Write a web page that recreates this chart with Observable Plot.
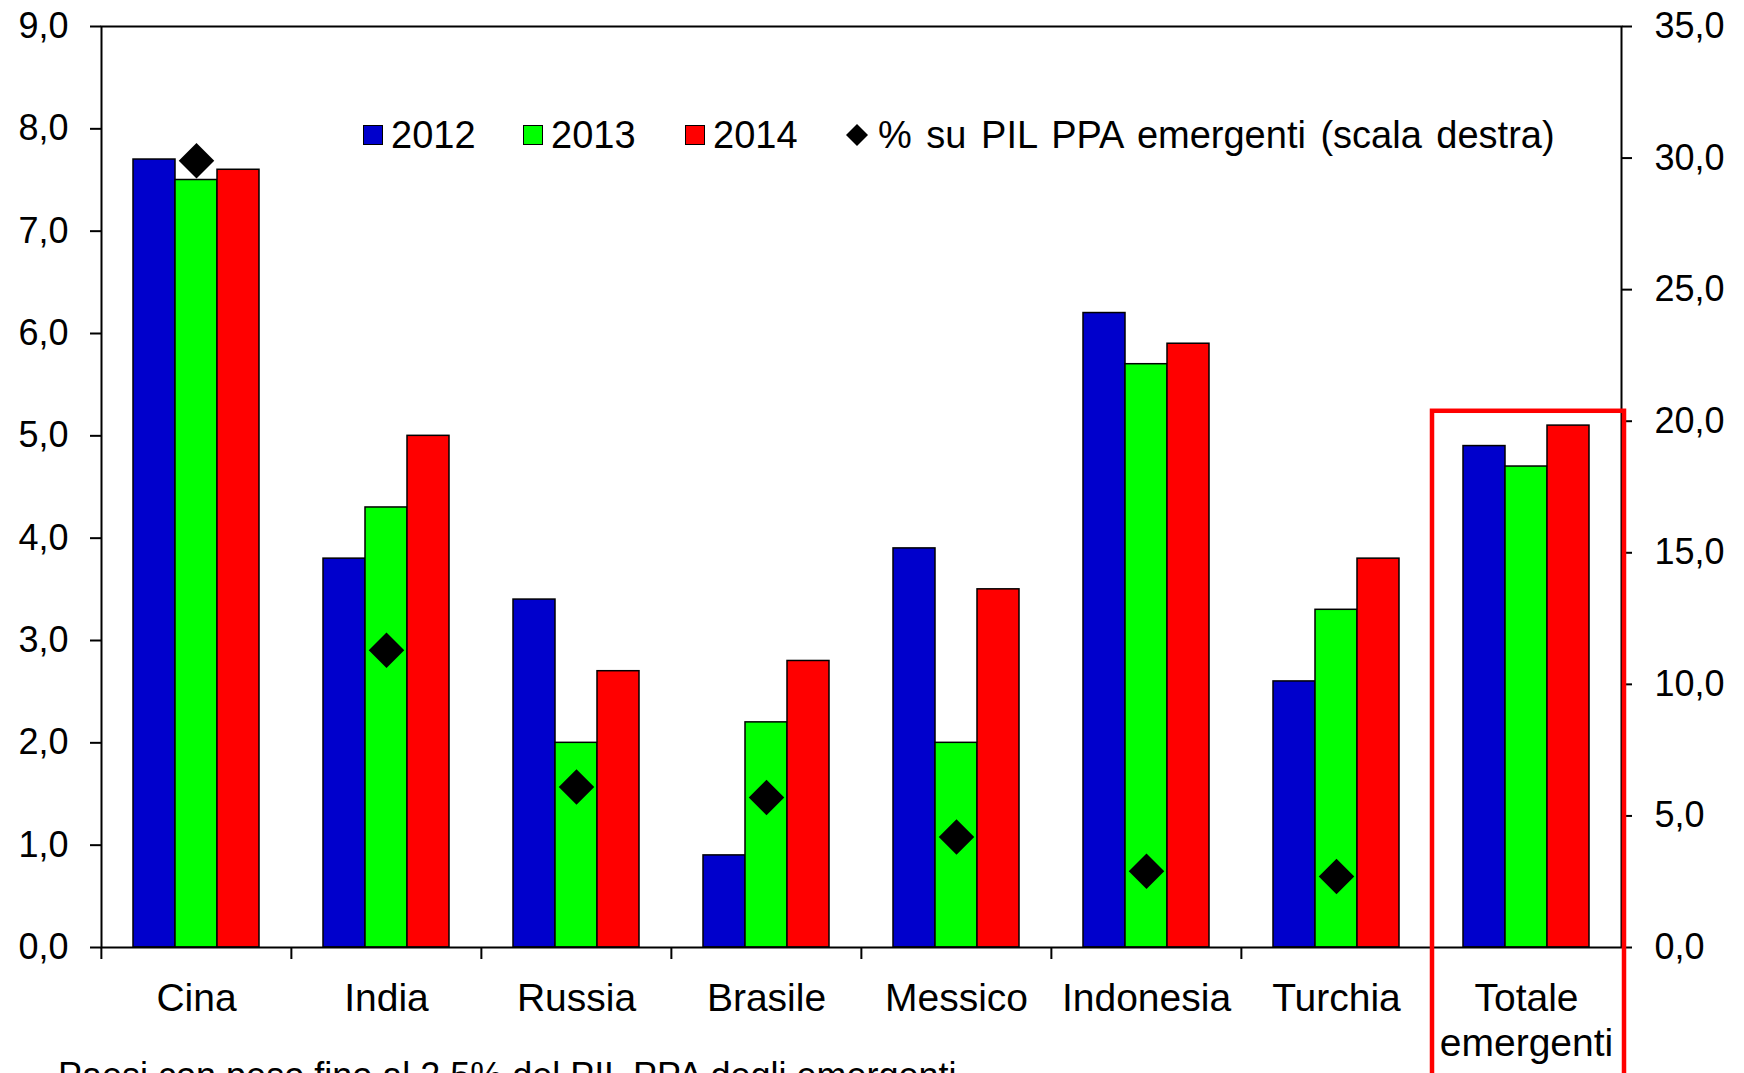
<!DOCTYPE html>
<html>
<head>
<meta charset="utf-8">
<script src="https://cdn.jsdelivr.net/npm/d3@7"></script>
<script src="https://cdn.jsdelivr.net/npm/@observablehq/plot@0.6"></script>
<style>
  html, body { margin: 0; padding: 0; overflow: hidden; background: #fff; width: 1744px; height: 1073px; }
  #wrap { position: relative; width: 1744px; font-family: "Liberation Sans", Arial, sans-serif; color: #000; }
  .leg { position: absolute; top: 116px; height: 38px; display: flex; align-items: center; font-size: 38px; line-height: 38px; white-space: pre; }
  .sw { width: 18px; height: 18px; border: 1.5px solid #000; margin-right: 8px; }
  #caption { font-size: 36px; line-height: 36px; margin: 5px 0 0 58px; white-space: nowrap; }
</style>
</head>
<body>
<div id="wrap"></div>
<script>
// ---- data ----
const countries = ["Cina", "India", "Russia", "Brasile", "Messico", "Indonesia", "Turchia", "Totale emergenti"];
const years = ["2012", "2013", "2014"];
const v2012 = [7.7, 3.8, 3.4, 0.9, 3.9, 6.2, 2.6, 4.9];
const v2013 = [7.5, 4.3, 2.0, 2.2, 2.0, 5.7, 3.3, 4.7];
const v2014 = [7.6, 5.0, 2.7, 2.8, 3.5, 5.9, 3.8, 5.1];
const shareCountries = ["Cina", "India", "Russia", "Brasile", "Messico", "Indonesia", "Turchia"];
const shareValues = [29.9, 11.3, 6.1, 5.7, 4.2, 2.9, 2.7];
const leftTicks = [0, 1, 2, 3, 4, 5, 6, 7, 8, 9];
const rightTicks = [0, 5, 10, 15, 20, 25, 30, 35];
const leftMax = 9, rightMax = 35;
const highlight = [{country: "Totale emergenti", top: 5.24}];
const colors = ["#0000CC", "#00FF00", "#FF0000"];
const legendLabel = "% su PIL PPA emergenti (scala destra)";
const captionText = "Paesi con peso fino al 2,5% del PIL PPA degli emergenti";

// ---- tables ----
const series = [v2012, v2013, v2014];
const bars = [];
countries.forEach((c, i) => years.forEach((y, j) => bars.push({country: c, year: y, value: series[j][i]})));
const share = shareCountries.map((c, i) => ({country: c, share: shareValues[i]}));
const toLeft = v => v * leftMax / rightMax;
const fmt = d => d.toFixed(1).replace(".", ",");

const width = 1744, height = 1053;
const marginLeft = 100, marginRight = 122, marginTop = 26, marginBottom = 106;
const step = (width - marginLeft - marginRight) / countries.length;

const chart = Plot.plot({
  width, height, marginLeft, marginRight, marginTop, marginBottom,
  style: {fontFamily: "'Liberation Sans', Arial, sans-serif", overflow: "visible", background: "white", color: "black"},
  fx: {domain: countries, padding: 0, label: null},
  x: {domain: years, paddingInner: 0, paddingOuter: 0.73, axis: null},
  y: {domain: [0, leftMax], label: null},
  color: {domain: years, range: colors},
  marks: [
    Plot.barY(bars, {fx: "country", x: "year", y: "value", fill: "year", stroke: "black", strokeWidth: 1.5}),
    Plot.dot(share, {fx: "country", y: d => toLeft(d.share), symbol: "diamond2", r: 16, fill: "black", stroke: null}),
    Plot.frame({facet: "super", stroke: "black", strokeWidth: 2}),
    Plot.axisY(leftTicks, {anchor: "left", tickFormat: fmt, tickSize: 11, tickPadding: 22, fontSize: 36, strokeWidth: 2}),
    Plot.axisY(rightTicks.map(toLeft), {anchor: "right", tickFormat: d => fmt(d * rightMax / leftMax), tickSize: 10, tickPadding: 23, fontSize: 36, strokeWidth: 2}),
    Plot.axisFx({anchor: "bottom", tickSize: 0, tickPadding: 32, fontSize: 39, lineHeight: 1.15,
      tickFormat: d => d === "Totale emergenti" ? "Totale\nemergenti" : d}),
    Plot.axisFx({anchor: "bottom", tickSize: 12, tickFormat: null, dx: -step / 2, strokeWidth: 2}),
    Plot.rect(highlight, {fx: "country", y1: "top", y2: 0, fill: "none", stroke: "#FF0000", strokeWidth: 4.5, insetBottom: -160, insetRight: -3, insetLeft: 1})
  ]
});

const wrap = document.getElementById("wrap");
wrap.appendChild(chart);

// legend (inside plot area, overlaid)
const legendLefts = [363, 523, 685];
years.forEach((y, i) => {
  const item = document.createElement("div");
  item.className = "leg";
  item.style.left = legendLefts[i] + "px";
  const sw = document.createElement("div");
  sw.className = "sw";
  sw.style.background = colors[i];
  item.appendChild(sw);
  item.appendChild(document.createTextNode(y));
  wrap.appendChild(item);
});
const dItem = document.createElement("div");
dItem.className = "leg";
dItem.style.left = "846px";
dItem.style.wordSpacing = "4px";
dItem.innerHTML = '<svg width="22" height="22" style="margin-right:10px"><polygon points="11,0 22,11 11,22 0,11" fill="#000"/></svg>';
dItem.appendChild(document.createTextNode(legendLabel));
wrap.appendChild(dItem);

const cap = document.createElement("div");
cap.id = "caption";
cap.textContent = captionText;
wrap.appendChild(cap);
</script>
</body>
</html>
